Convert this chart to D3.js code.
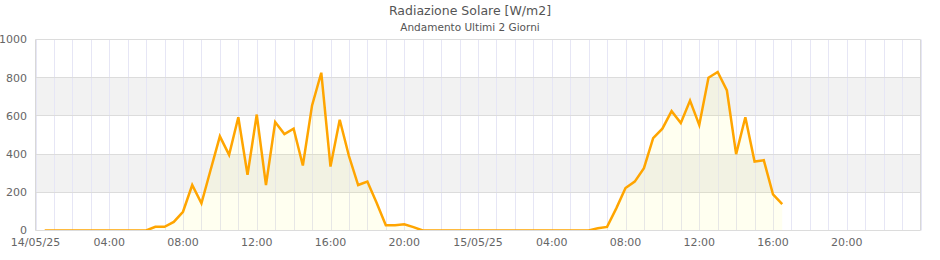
<!DOCTYPE html>
<html>
<head>
<meta charset="utf-8">
<script src="https://cdn.jsdelivr.net/npm/d3@7"></script>
<style>
  html, body { margin: 0; padding: 0; background: #fff; }
  svg { display: block; font-family: "DejaVu Sans", Verdana, sans-serif; }
</style>
</head>
<body>
<svg id="chart" width="940" height="260"></svg>
<script>
// ---- data ----
const chartTitle = "Radiazione Solare [W/m2]";
const chartSubtitle = "Andamento Ultimi 2 Giorni";

const times = [
  "2025-05-14T00:30","2025-05-14T01:00","2025-05-14T01:30","2025-05-14T02:00","2025-05-14T02:30","2025-05-14T03:00",
  "2025-05-14T03:30","2025-05-14T04:00","2025-05-14T04:30","2025-05-14T05:00","2025-05-14T05:30","2025-05-14T06:00",
  "2025-05-14T06:30","2025-05-14T07:00","2025-05-14T07:30","2025-05-14T08:00","2025-05-14T08:30","2025-05-14T09:00",
  "2025-05-14T09:30","2025-05-14T10:00","2025-05-14T10:30","2025-05-14T11:00","2025-05-14T11:30","2025-05-14T12:00",
  "2025-05-14T12:30","2025-05-14T13:00","2025-05-14T13:30","2025-05-14T14:00","2025-05-14T14:30","2025-05-14T15:00",
  "2025-05-14T15:30","2025-05-14T16:00","2025-05-14T16:30","2025-05-14T17:00","2025-05-14T17:30","2025-05-14T18:00",
  "2025-05-14T18:30","2025-05-14T19:00","2025-05-14T19:30","2025-05-14T20:00","2025-05-14T20:30","2025-05-14T21:00",
  "2025-05-14T21:30","2025-05-14T22:00","2025-05-14T22:30","2025-05-14T23:00","2025-05-14T23:30",
  "2025-05-15T00:00","2025-05-15T00:30","2025-05-15T01:00","2025-05-15T01:30","2025-05-15T02:00","2025-05-15T02:30",
  "2025-05-15T03:00","2025-05-15T03:30","2025-05-15T04:00","2025-05-15T04:30","2025-05-15T05:00","2025-05-15T05:30",
  "2025-05-15T06:00","2025-05-15T06:30","2025-05-15T07:00","2025-05-15T07:30","2025-05-15T08:00","2025-05-15T08:30",
  "2025-05-15T09:00","2025-05-15T09:30","2025-05-15T10:00","2025-05-15T10:30","2025-05-15T11:00","2025-05-15T11:30",
  "2025-05-15T12:00","2025-05-15T12:30","2025-05-15T13:00","2025-05-15T13:30","2025-05-15T14:00","2025-05-15T14:30",
  "2025-05-15T15:00","2025-05-15T15:30","2025-05-15T16:00","2025-05-15T16:30"
];

const radiation = [
  0, 0, 0, 0, 0, 0,
  0, 0, 0, 0, 0, 0,
  19, 19, 45, 98, 238, 142,
  318, 493, 396, 593, 291, 607,
  238, 568, 505, 533, 340, 655,
  826, 335, 580, 390, 238, 256,
  145, 28, 28, 33, 18, 0,
  0, 0, 0, 0, 0,
  0, 0, 0, 0, 0, 0,
  0, 0, 0, 0, 0, 0,
  0, 12, 19, 116, 222, 256,
  326, 484, 533, 625, 563, 680,
  553, 800, 830, 733, 400, 593,
  361, 368, 189, 138
];

const yTicks = [0, 200, 400, 600, 800, 1000];
const xDomain = ["2025-05-14T00:00", "2025-05-16T00:00"];

// ---- layout ----
const svg = d3.select("#chart");
const pl = 35.5, pr = 920.5, pt = 39.5, pb = 230.5;

const parse = d3.timeParse("%Y-%m-%dT%H:%M");
const data = times.map((t, i) => ({ t: parse(t), v: radiation[i] }));

const x = d3.scaleTime().domain(xDomain.map(parse)).range([pl, pr]);
const y = d3.scaleLinear().domain([0, 1000]).range([pb, pt]);

// alternating bands
const bands = [[200, 400], [600, 800]];
svg.append("g").selectAll("rect").data(bands).join("rect")
  .attr("x", pl).attr("width", pr - pl)
  .attr("y", d => y(d[1])).attr("height", d => y(d[0]) - y(d[1]))
  .attr("fill", "#f2f2f2");

// vertical hourly grid
svg.append("g").selectAll("line").data(x.ticks(d3.timeHour.every(1))).join("line")
  .attr("x1", d => Math.round(x(d)) + 0.5).attr("x2", d => Math.round(x(d)) + 0.5)
  .attr("y1", pt).attr("y2", pb)
  .attr("stroke", "#e6e6f5").attr("stroke-width", 1);

// horizontal grid
svg.append("g").selectAll("line").data(yTicks).join("line")
  .attr("x1", pl).attr("x2", pr)
  .attr("y1", d => Math.round(y(d) - 0.5) + 0.5).attr("y2", d => Math.round(y(d) - 0.5) + 0.5)
  .attr("stroke", "#dcdcdc").attr("stroke-width", 1);

// border
svg.append("line").attr("x1", pl).attr("x2", pl).attr("y1", pt).attr("y2", pb)
  .attr("stroke", "#d8d8d8");
svg.append("line").attr("x1", pr).attr("x2", pr).attr("y1", pt).attr("y2", pb)
  .attr("stroke", "#d8d8d8");

// clip
svg.append("defs").append("clipPath").attr("id", "plotclip")
  .append("rect").attr("x", pl).attr("y", pt).attr("width", pr - pl).attr("height", pb - pt - 0.5);

const plot = svg.append("g").attr("clip-path", "url(#plotclip)");

plot.append("path").datum(data)
  .attr("d", d3.area().x(d => x(d.t)).y0(y(0)).y1(d => y(d.v)))
  .attr("fill", "rgba(255,255,0,0.06)");

plot.append("path").datum(data)
  .attr("d", d3.line().x(d => x(d.t)).y(d => y(d.v)))
  .attr("fill", "none").attr("stroke", "#FFA500").attr("stroke-width", 2.5)
  .attr("stroke-linejoin", "miter");

// y axis labels
svg.append("g").selectAll("text").data(yTicks).join("text")
  .attr("x", 27).attr("y", d => y(d)).attr("dy", "0.35em")
  .attr("text-anchor", "end").attr("font-size", 11).attr("fill", "#666")
  .text(d => d);

// x axis labels
const fmtDay = d3.timeFormat("%d/%m/%y"), fmtHour = d3.timeFormat("%H:%M");
const xTicks = x.ticks(d3.timeHour.every(4)).filter(d => d < x.domain()[1]);
svg.append("g").selectAll("text").data(xTicks).join("text")
  .attr("x", d => x(d)).attr("y", 246)
  .attr("text-anchor", "middle").attr("font-size", 11).attr("fill", "#666")
  .text(d => d.getHours() === 0 ? fmtDay(d) : fmtHour(d));

// titles
svg.append("text").attr("x", 470).attr("y", 15).attr("text-anchor", "middle")
  .attr("font-size", 12.5).attr("fill", "#555").text(chartTitle);
svg.append("text").attr("x", 470).attr("y", 31).attr("text-anchor", "middle")
  .attr("font-size", 10.5).attr("fill", "#555").text(chartSubtitle);
</script>
</body>
</html>
